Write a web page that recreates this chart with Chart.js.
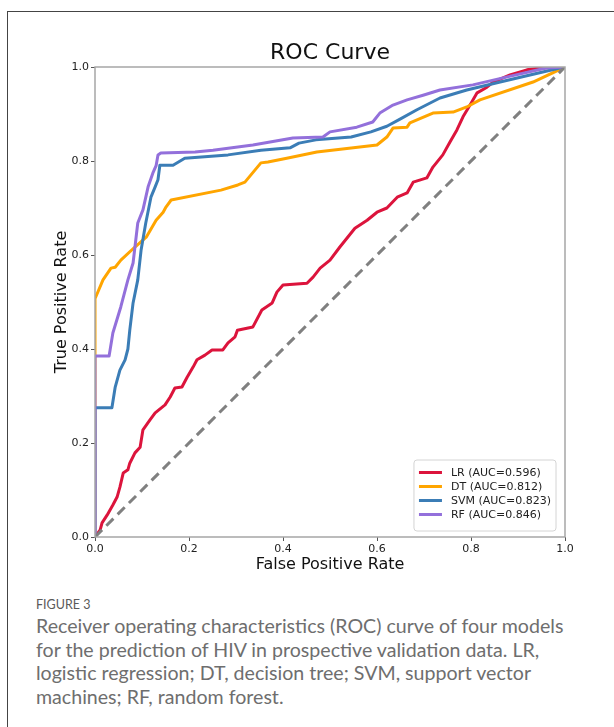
<!DOCTYPE html>
<html>
<head>
<meta charset="utf-8">
<script src="https://cdn.jsdelivr.net/npm/chart.js@4/dist/chart.umd.min.js"></script>
<style>
  html, body { margin: 0; padding: 0; background: #fff; }
  body { width: 614px; height: 727px; position: relative; overflow: hidden; }
  .frame-top { position: absolute; left: 7px; top: 11px; right: 0; height: 0; border-top: 1.5px solid #444; }
  .frame-left { position: absolute; left: 7px; top: 11px; bottom: 0; width: 0; border-left: 1.5px solid #444; }
  #wrap { position: absolute; left: 0; top: 0; width: 614px; height: 580px; }
  .fig-label { position: absolute; left: 36px; top: 597px; font-family: Lato, "Open Sans", sans-serif; font-size: 12.5px; line-height: 16px; color: #5a5a5a; }
  .caption { position: absolute; left: 36px; top: 614px; width: 545px; font-family: Lato, "Open Sans", sans-serif; font-size: 19.6px; line-height: 23.5px; color: #6e6e6e; }
</style>
</head>
<body>
<div class="frame-top"></div>
<div class="frame-left"></div>
<div id="wrap"><canvas id="roc"></canvas></div>
<div class="fig-label">FIGURE 3</div>
<div class="caption">Receiver operating characteristics (ROC) curve of four models for the prediction of HIV in prospective validation data. LR, logistic regression; DT, decision tree; SVM, support vector machines; RF, random forest.</div>

<script>
// ROC points (false positive rate, true positive rate)
const lrFpr = [0, 0.011, 0.015, 0.026, 0.038, 0.047, 0.053, 0.060, 0.070, 0.074, 0.085, 0.096, 0.102, 0.117, 0.128, 0.149, 0.160, 0.170, 0.185, 0.196, 0.209, 0.217, 0.234, 0.249, 0.272, 0.283, 0.298, 0.303, 0.336, 0.355, 0.377, 0.387, 0.400, 0.451, 0.464, 0.479, 0.500, 0.521, 0.553, 0.579, 0.600, 0.621, 0.643, 0.664, 0.677, 0.706, 0.719, 0.740, 0.755, 0.770, 0.783, 0.798, 0.813, 0.834, 0.847, 0.883, 0.919, 0.947, 1];
const lrTpr = [0, 0.015, 0.030, 0.047, 0.068, 0.085, 0.106, 0.136, 0.143, 0.157, 0.179, 0.191, 0.228, 0.249, 0.264, 0.281, 0.298, 0.317, 0.319, 0.340, 0.362, 0.377, 0.387, 0.398, 0.398, 0.413, 0.426, 0.440, 0.447, 0.483, 0.498, 0.521, 0.536, 0.540, 0.553, 0.572, 0.589, 0.617, 0.657, 0.674, 0.691, 0.700, 0.723, 0.732, 0.755, 0.764, 0.787, 0.813, 0.840, 0.866, 0.894, 0.919, 0.945, 0.957, 0.968, 0.983, 0.994, 0.998, 1];

const dtFpr = [0, 0, 0.017, 0.034, 0.043, 0.055, 0.085, 0.109, 0.130, 0.145, 0.151, 0.162, 0.268, 0.304, 0.319, 0.353, 0.368, 0.408, 0.472, 0.600, 0.621, 0.634, 0.664, 0.670, 0.719, 0.762, 0.791, 0.819, 0.932, 1];
const dtTpr = [0, 0.507, 0.547, 0.572, 0.574, 0.589, 0.617, 0.638, 0.674, 0.691, 0.702, 0.717, 0.738, 0.749, 0.755, 0.796, 0.798, 0.806, 0.819, 0.834, 0.851, 0.870, 0.872, 0.881, 0.902, 0.904, 0.915, 0.930, 0.968, 1];

const svmFpr = [0, 0, 0.036, 0.043, 0.053, 0.064, 0.070, 0.074, 0.081, 0.091, 0.098, 0.108, 0.119, 0.128, 0.134, 0.138, 0.166, 0.191, 0.283, 0.353, 0.415, 0.434, 0.470, 0.545, 0.587, 0.621, 0.649, 0.685, 0.734, 0.791, 0.862, 0.989, 1];
const svmTpr = [0, 0.275, 0.275, 0.319, 0.355, 0.377, 0.400, 0.440, 0.498, 0.547, 0.610, 0.668, 0.723, 0.745, 0.760, 0.791, 0.791, 0.806, 0.813, 0.823, 0.828, 0.838, 0.845, 0.851, 0.862, 0.874, 0.889, 0.909, 0.934, 0.951, 0.968, 0.998, 1];

const rfFpr = [0, 0, 0.030, 0.038, 0.055, 0.070, 0.081, 0.091, 0.102, 0.113, 0.123, 0.130, 0.134, 0.140, 0.213, 0.251, 0.336, 0.421, 0.485, 0.500, 0.557, 0.591, 0.606, 0.634, 0.664, 0.698, 0.734, 0.804, 0.877, 0.960, 1];
const rfTpr = [0, 0.385, 0.385, 0.434, 0.490, 0.547, 0.583, 0.668, 0.696, 0.745, 0.774, 0.790, 0.813, 0.817, 0.819, 0.823, 0.834, 0.849, 0.851, 0.862, 0.872, 0.883, 0.902, 0.919, 0.930, 0.940, 0.951, 0.962, 0.979, 0.998, 1];

const chanceFpr = [0, 1];
const chanceTpr = [0, 1];

const modelLabels = ["LR (AUC=0.596)", "DT (AUC=0.812)", "SVM (AUC=0.823)", "RF (AUC=0.846)"];
const tickValues = [0, 0.2, 0.4, 0.6, 0.8, 1.0];

const toPoints = (xs, ys) => xs.map((x, i) => ({ x: x, y: ys[i] }));

// frame around the plot area (all four sides, like matplotlib spines)
const framePlugin = {
  id: "frame",
  afterDraw(chart) {
    const { ctx, chartArea: a } = chart;
    ctx.save();
    ctx.strokeStyle = "#a6a6a6";
    ctx.lineWidth = 1.5;
    ctx.strokeRect(a.left, a.top, a.right - a.left, a.bottom - a.top);
    ctx.restore();
  },
};

// legend in the lower right corner of the plot, drawn from the datasets
const cornerLegend = {
  id: "cornerLegend",
  afterDraw(chart) {
    const { ctx, chartArea: a } = chart;
    const items = chart.data.datasets.filter((d) => d.inLegend);
    ctx.save();
    ctx.font = "11px 'DejaVu Sans'";
    const textW = Math.max(...items.map((d) => ctx.measureText(d.label).width));
    const rowH = 14;
    const w = 37 + textW + 5;
    const h = items.length * rowH + 15;
    const x0 = a.right - 9 - w;
    const y0 = a.bottom - 6 - h;
    ctx.fillStyle = "rgba(255,255,255,0.85)";
    ctx.strokeStyle = "#d4d4d4";
    ctx.lineWidth = 1;
    ctx.beginPath();
    ctx.roundRect(x0, y0, w, h, 3);
    ctx.fill();
    ctx.stroke();
    items.forEach((d, i) => {
      const cy = y0 + 12.5 + i * rowH;
      ctx.strokeStyle = d.borderColor;
      ctx.lineWidth = 3;
      ctx.beginPath();
      ctx.moveTo(x0 + 5, cy);
      ctx.lineTo(x0 + 28, cy);
      ctx.stroke();
      ctx.fillStyle = "#222";
      ctx.textBaseline = "middle";
      ctx.fillText(d.label, x0 + 37, cy + 0.5);
    });
    ctx.restore();
  },
};

const lineStyle = { borderWidth: 3, pointRadius: 0, tension: 0, fill: false, borderJoinStyle: "round" };

new Chart(document.getElementById("roc"), {
  type: "line",
  data: {
    datasets: [
      { label: modelLabels[0], data: toPoints(lrFpr, lrTpr), borderColor: "#dc143c", order: 4, inLegend: true, ...lineStyle },
      { label: modelLabels[1], data: toPoints(dtFpr, dtTpr), borderColor: "#ffa500", order: 3, inLegend: true, ...lineStyle },
      { label: modelLabels[2], data: toPoints(svmFpr, svmTpr), borderColor: "#3b7db6", order: 2, inLegend: true, ...lineStyle },
      { label: modelLabels[3], data: toPoints(rfFpr, rfTpr), borderColor: "#9370db", order: 1, inLegend: true, ...lineStyle },
      { label: "chance", data: toPoints(chanceFpr, chanceTpr), borderColor: "#808080", borderDash: [10, 6], order: 0, inLegend: false, ...lineStyle },
    ],
  },
  options: {
    responsive: true,
    maintainAspectRatio: false,
    animation: false,
    layout: { padding: { left: 0, right: 49, top: 0, bottom: 0 } },
    plugins: {
      legend: { display: false },
      tooltip: { enabled: false },
      title: {
        display: true,
        text: "ROC Curve",
        fullSize: false,
        color: "#111",
        font: { family: "'DejaVu Sans'", size: 22, weight: "normal", lineHeight: 1.2 },
        padding: { top: 40, bottom: 0.6 },
      },
    },
    scales: {
      x: {
        type: "linear",
        min: 0,
        max: 1,
        afterFit: (s) => { s.height = 43; },
        afterBuildTicks: (s) => { s.ticks = tickValues.map((v) => ({ value: v })); },
        ticks: { color: "#222", padding: 2, font: { family: "'DejaVu Sans'", size: 11 }, callback: (v) => Number(v).toFixed(1), maxRotation: 0 },
        grid: { drawOnChartArea: false, drawTicks: true, tickLength: 4, color: "#555" },
        border: { display: false },
        title: { display: true, text: "False Positive Rate", color: "#111", font: { family: "'DejaVu Sans'", size: 16, lineHeight: 1.2 }, padding: { top: 0, bottom: 6 } },
      },
      y: {
        type: "linear",
        min: 0,
        max: 1,
        afterFit: (s) => { s.width = 95; },
        afterBuildTicks: (s) => { s.ticks = tickValues.map((v) => ({ value: v })); },
        ticks: { color: "#222", padding: 2, font: { family: "'DejaVu Sans'", size: 11 }, callback: (v) => Number(v).toFixed(1) },
        grid: { drawOnChartArea: false, drawTicks: true, tickLength: 4, color: "#555" },
        border: { display: false },
        title: { display: true, text: "True Positive Rate", color: "#111", font: { family: "'DejaVu Sans'", size: 16, lineHeight: 1.2 }, padding: { top: 52.4, bottom: 0 } },
      },
    },
  },
  plugins: [framePlugin, cornerLegend],
});
</script>
</body>
</html>
